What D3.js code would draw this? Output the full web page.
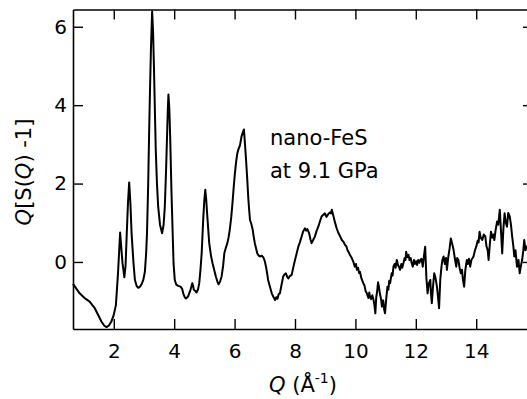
<!DOCTYPE html>
<html>
<head>
<meta charset="utf-8">
<script src="https://cdn.jsdelivr.net/npm/d3@7"></script>
<style>
  body { margin: 0; background: #fff; }
  svg { display: block; font-family: "DejaVu Sans", sans-serif; }
</style>
</head>
<body>
<div id="chart"></div>
<script>
// Q values (1/Å)
const qValues = [
  0.65, 0.87, 1.05, 1.20, 1.37, 1.50, 1.59, 1.68, 1.76, 1.84, 1.92, 2.00, 2.07, 2.14, 2.21, 2.26, 2.29, 2.35, 2.39, 2.43,
  2.47, 2.51, 2.55, 2.59, 2.65, 2.70, 2.76, 2.81, 2.87, 2.92, 2.98, 3.03, 3.07, 3.10, 3.14, 3.17, 3.20, 3.23, 3.27, 3.30,
  3.33, 3.36, 3.39, 3.43, 3.47, 3.53, 3.60, 3.65, 3.69, 3.73, 3.76, 3.79, 3.81, 3.84, 3.87, 3.91, 3.95, 3.98, 4.02, 4.07,
  4.13, 4.21, 4.26, 4.30, 4.35, 4.39, 4.46, 4.54, 4.58, 4.60, 4.63, 4.65, 4.70, 4.74, 4.79, 4.83, 4.87, 4.91, 4.96, 5.00,
  5.03, 5.06, 5.09, 5.16, 5.22, 5.27, 5.33, 5.38, 5.43, 5.47, 5.52, 5.57, 5.62, 5.66, 5.71, 5.76, 5.80, 5.84, 5.89, 5.93,
  5.97, 6.01, 6.05, 6.09, 6.13, 6.18, 6.23, 6.27, 6.31, 6.34, 6.38, 6.42, 6.45, 6.48, 6.51, 6.55, 6.60, 6.63, 6.67, 6.71,
  6.75, 6.80, 6.84, 6.90, 6.95, 7.00, 7.04, 7.08, 7.11, 7.17, 7.23, 7.28, 7.34, 7.38, 7.42, 7.46, 7.50, 7.55, 7.61, 7.65,
  7.70, 7.74, 7.78, 7.83, 7.89, 7.94, 8.00, 8.05, 8.11, 8.16, 8.22, 8.27, 8.33, 8.37, 8.41, 8.47, 8.51, 8.55, 8.60, 8.66,
  8.71, 8.77, 8.82, 8.88, 8.93, 8.99, 9.04, 9.10, 9.15, 9.19, 9.22, 9.27, 9.33, 9.38, 9.44, 9.49, 9.55, 9.60, 9.66, 9.70,
  9.74, 9.77, 9.82, 9.88, 9.93, 9.98, 10.02, 10.05, 10.09, 10.12, 10.15, 10.20, 10.26, 10.30, 10.34, 10.38, 10.43, 10.46, 10.48, 10.52,
  10.56, 10.60, 10.63, 10.66, 10.69, 10.72, 10.75, 10.77, 10.81, 10.85, 10.88, 10.92, 10.95, 10.98, 11.02, 11.06, 11.09, 11.12, 11.15, 11.20,
  11.23, 11.26, 11.30, 11.33, 11.37, 11.41, 11.44, 11.48, 11.52, 11.55, 11.59, 11.63, 11.66, 11.68, 11.72, 11.76, 11.79, 11.83, 11.86, 11.90,
  11.94, 11.97, 12.01, 12.04, 12.08, 12.12, 12.15, 12.19, 12.23, 12.27, 12.31, 12.35, 12.39, 12.43, 12.48, 12.50, 12.53, 12.57, 12.61, 12.65,
  12.70, 12.73, 12.77, 12.81, 12.85, 12.88, 12.92, 12.96, 13.00, 13.03, 13.07, 13.12, 13.16, 13.20, 13.25, 13.29, 13.34, 13.37, 13.41, 13.45,
  13.49, 13.53, 13.56, 13.60, 13.64, 13.69, 13.72, 13.76, 13.80, 13.84, 13.88, 13.91, 13.96, 14.00, 14.05, 14.08, 14.11, 14.15, 14.20, 14.25,
  14.30, 14.34, 14.38, 14.41, 14.45, 14.49, 14.53, 14.57, 14.60, 14.64, 14.69, 14.73, 14.78, 14.82, 14.86, 14.90, 14.94, 14.98, 15.02, 15.06,
  15.11, 15.15, 15.19, 15.23, 15.26, 15.30, 15.35, 15.40, 15.44, 15.48, 15.52, 15.56, 15.59, 15.63, 15.68, 15.72
];

// Q[S(Q)-1] at each Q
const sqValues = [
  -0.56, -0.80, -0.93, -1.01, -1.18, -1.38, -1.52, -1.62, -1.66, -1.62, -1.52, -1.35, -1.10, -0.29, 0.75, 0.25, -0.03, -0.39, -0.10, 0.73,
  1.50, 2.03, 1.50, 0.73, 0.00, -0.46, -0.62, -0.66, -0.63, -0.57, -0.45, -0.25, 0.20, 0.73, 2.00, 3.28, 4.40, 5.41, 6.39, 5.90,
  4.98, 3.90, 2.86, 2.00, 1.41, 0.95, 0.73, 0.95, 1.41, 2.30, 3.11, 3.90, 4.27, 3.90, 3.11, 1.80, 0.73, -0.05, -0.46, -0.58,
  -0.61, -0.63, -0.68, -0.80, -0.90, -0.93, -0.88, -0.71, -0.60, -0.54, -0.62, -0.71, -0.74, -0.78, -0.70, -0.54, -0.20, 0.22, 1.07, 1.60,
  1.84, 1.60, 1.24, 0.48, 0.15, -0.03, -0.22, -0.37, -0.50, -0.57, -0.50, -0.37, -0.10, 0.22, 0.36, 0.48, 0.62, 0.82, 1.15, 1.50,
  1.90, 2.26, 2.55, 2.77, 2.88, 2.98, 3.20, 3.30, 3.38, 3.05, 2.60, 2.10, 1.67, 1.35, 1.07, 0.98, 0.82, 0.66, 0.48, 0.35,
  0.22, 0.16, 0.14, 0.16, 0.12, 0.02, -0.12, -0.30, -0.46, -0.63, -0.80, -0.88, -0.97, -0.90, -0.94, -0.82, -0.80, -0.60, -0.37, -0.32,
  -0.29, -0.38, -0.42, -0.36, -0.33, -0.15, 0.05, 0.20, 0.39, 0.50, 0.65, 0.78, 0.86, 0.80, 0.84, 0.73, 0.58, 0.48, 0.56, 0.65,
  0.78, 0.90, 1.02, 1.16, 1.20, 1.24, 1.15, 1.22, 1.26, 1.24, 1.33, 1.18, 0.99, 0.86, 0.73, 0.66, 0.56, 0.52, 0.43, 0.40,
  0.30, 0.26, 0.18, 0.10, 0.01, -0.12, -0.05, -0.20, -0.15, -0.28, -0.25, -0.42, -0.54, -0.60, -0.75, -0.80, -0.92, -0.78, -0.88, -0.95,
  -0.85, -0.97, -1.10, -1.31, -0.90, -0.75, -0.52, -0.59, -0.80, -0.95, -1.14, -0.98, -1.20, -1.31, -0.95, -0.63, -0.71, -0.48, -0.54, -0.29,
  -0.35, -0.12, -0.05, -0.15, 0.05, -0.08, -0.12, -0.20, -0.05, -0.15, -0.03, 0.10, 0.05, 0.26, 0.12, 0.18, 0.05, 0.10, -0.02, -0.12,
  0.05, -0.05, 0.02, -0.08, 0.05, -0.02, 0.05, 0.08, -0.12, 0.15, 0.39, -0.40, -0.80, -0.55, -0.46, -0.78, -1.05, -0.62, -0.29, -0.40,
  -0.63, -0.85, -1.18, -0.45, -0.12, 0.05, 0.14, -0.05, 0.10, -0.20, 0.10, 0.35, 0.60, 0.48, 0.31, 0.10, -0.12, 0.10, 0.05, -0.15,
  -0.29, -0.20, -0.45, -0.63, -0.20, 0.05, -0.05, 0.08, -0.12, 0.05, 0.10, 0.14, 0.30, 0.39, 0.55, 0.50, 0.77, 0.62, 0.56, 0.70,
  0.65, 0.40, 0.30, 0.05, 0.45, 0.77, 0.62, 0.70, 0.56, 0.80, 1.03, 0.95, 1.33, 0.80, 0.22, 0.85, 1.24, 1.00, 0.90, 1.25,
  1.16, 0.95, 0.65, 0.40, 0.14, 0.30, -0.12, 0.05, -0.29, -0.10, 0.05, 0.30, 0.56, 0.30, 0.39, 0.45
];

const xTicks = [2, 4, 6, 8, 10, 12, 14];
const yTicks = [0, 2, 4, 6];
const annotation = ["nano-FeS", "at 9.1 GPa"];

const width = 527;
const height = 399;
const mLeft = 73, mRight = 533, mTop = 9.5, mBottom = 329;
const tickLen = 10;

const svg = d3.select('#chart').append('svg')
  .attr('width', width)
  .attr('height', height);

const x = d3.scaleLinear().domain([0.65, 15.88]).range([mLeft, mRight]);
const y = d3.scaleLinear().domain([-1.71, 6.44]).range([mBottom, mTop]);

// axes with ticks pointing inwards
const axisStyle = (g) => {
  g.selectAll('.domain').attr('stroke', '#000').attr('stroke-width', 1.6);
  g.selectAll('.tick line').attr('stroke', '#000').attr('stroke-width', 1.4);
  g.selectAll('.tick text').attr('fill', '#000').attr('font-size', 20)
    .attr('font-family', '"DejaVu Sans", sans-serif');
};

svg.append('g')
  .attr('transform', 'translate(0,' + mBottom + ')')
  .call(d3.axisBottom(x).tickValues(xTicks).tickSizeInner(-tickLen).tickSizeOuter(0).tickPadding(15))
  .call(axisStyle);

svg.append('g')
  .attr('transform', 'translate(0,' + mTop + ')')
  .call(d3.axisTop(x).tickValues(xTicks).tickSizeInner(-tickLen).tickSizeOuter(0).tickFormat(''))
  .call(axisStyle);

svg.append('g')
  .attr('transform', 'translate(' + mLeft + ',0)')
  .call(d3.axisLeft(y).tickValues(yTicks).tickSizeInner(-tickLen).tickSizeOuter(0).tickPadding(6))
  .call(axisStyle);

svg.append('g')
  .attr('transform', 'translate(' + mRight + ',0)')
  .call(d3.axisRight(y).tickValues(yTicks).tickSizeInner(-tickLen).tickSizeOuter(0).tickFormat(''))
  .call(axisStyle);

// the curve
const pts = qValues.map((q, i) => [q, sqValues[i]]);
const line = d3.line().x(d => x(d[0])).y(d => y(d[1]));

svg.append('path')
  .datum(pts)
  .attr('fill', 'none')
  .attr('stroke', '#000')
  .attr('stroke-width', 2)
  .attr('stroke-linejoin', 'round')
  .attr('d', line);

// x label
const xl = svg.append('text')
  .attr('x', 303)
  .attr('y', 392)
  .attr('text-anchor', 'middle')
  .attr('font-size', 21);
xl.append('tspan').attr('font-style', 'italic').text('Q');
xl.append('tspan').text(' (Å');
xl.append('tspan').attr('font-size', 14).attr('dy', -9).text('-1');
xl.append('tspan').attr('dy', 9).text(')');

// y label
const yl = svg.append('text')
  .attr('transform', 'translate(31,172) rotate(-90)')
  .attr('text-anchor', 'middle')
  .attr('font-size', 21);
yl.append('tspan').attr('font-style', 'italic').text('Q');
yl.append('tspan').text('[S(');
yl.append('tspan').attr('font-style', 'italic').text('Q');
yl.append('tspan').text(') -1]');

// annotation
svg.selectAll('text.note')
  .data(annotation)
  .enter()
  .append('text')
  .attr('class', 'note')
  .attr('x', 270)
  .attr('y', (d, i) => 145 + i * 33)
  .attr('font-size', 21)
  .text(d => d);
</script>
</body>
</html>
